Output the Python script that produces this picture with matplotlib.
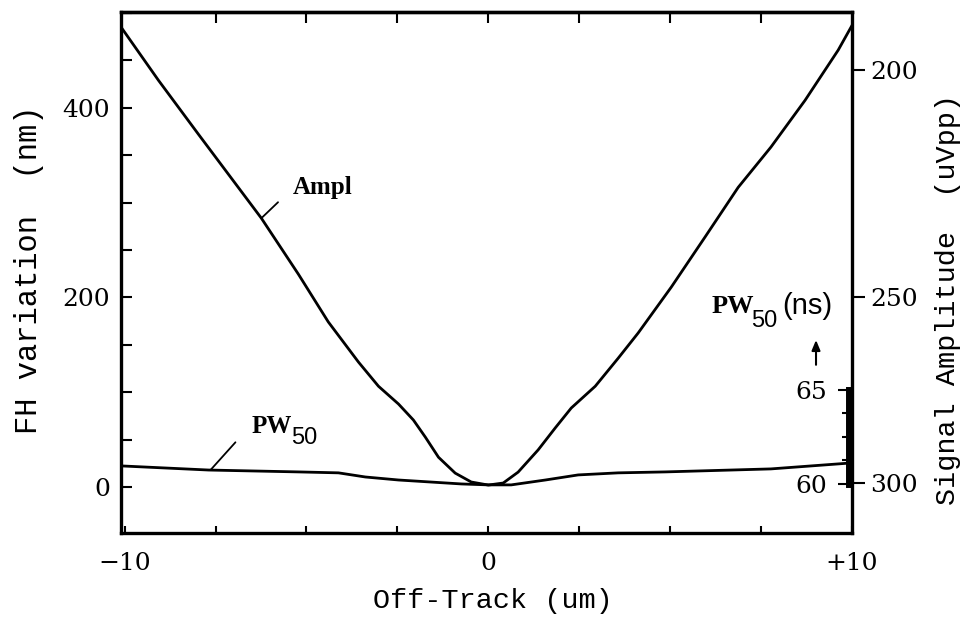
import numpy as np
import matplotlib
matplotlib.use("Agg")
import matplotlib.pyplot as plt
from matplotlib.ticker import FixedLocator, NullFormatter, NullLocator, FixedFormatter

# off-track position (um) and signal amplitude (uVpp)
ampl_x = [-10.1, -9.07, -7.97, -6.24, -5.22, -4.40, -3.57, -3.02, -2.47, -2.06,
          -1.73, -1.37, -0.91, -0.47, 0.0, 0.41, 0.82, 1.37, 1.84, 2.28,
          2.94, 3.57, 4.12, 5.03, 5.96, 6.87, 7.77, 8.71, 9.62, 10.0]
ampl_y = [191.7, 202.0, 213.0, 231.3, 244.4, 256.1, 266.4, 272.8, 277.6, 282.0,
          286.8, 292.5, 297.1, 299.7, 300.6, 300.0, 296.8, 290.4, 284.2, 278.7,
          272.8, 265.4, 258.9, 247.5, 235.6, 224.4, 215.7, 206.0, 196.1, 191.4]

# off-track position (um) and PW50 (ns)
pw_x = [-10.1, -7.69, -5.22, -4.12, -3.38, -2.47, -0.74, 0.0, 0.63, 1.57,
        2.47, 3.57, 4.86, 7.77, 10.0]
pw_y = [60.96, 60.74, 60.64, 60.59, 60.37, 60.21, 60.0, 59.95, 59.95, 60.21,
        60.48, 60.59, 60.64, 60.80, 61.12]

x_ticks = [-10, 0, 10]
x_labels = ["\u221210", "0", "+10"]
fh_ticks = [0, 200, 400]
amp_ticks = [200, 250, 300]
pw_ticks = [60, 65]

tick_font = {"family": "DejaVu Serif", "size": 18}
mono = "Liberation Mono"

fig = plt.figure(figsize=(9.67, 6.19), dpi=100)
ax = fig.add_axes([0.1251, 0.1389, 0.756, 0.8417])

ax.set_xlim(-10.1, 10.0)
ax.set_ylim(-48.5, 501)

for sp in ax.spines.values():
    sp.set_linewidth(2.4)

ax.xaxis.set_major_locator(FixedLocator(x_ticks))
ax.xaxis.set_major_formatter(FixedFormatter(x_labels))
ax.xaxis.set_minor_locator(FixedLocator(np.arange(-7.5, 10, 2.5)))
ax.tick_params(axis="x", which="both", direction="in", length=5, width=1.5,
               top=False, pad=14)
ax.yaxis.set_major_locator(FixedLocator(fh_ticks))
ax.yaxis.set_minor_locator(FixedLocator(np.arange(0, 501, 50)))
ax.tick_params(axis="y", which="both", direction="in", length=8, width=1.5,
               right=False, pad=8)
for lab in ax.get_xticklabels() + ax.get_yticklabels():
    lab.set_fontfamily(tick_font["family"])
    lab.set_fontsize(tick_font["size"])

top = ax.secondary_xaxis("top")
top.xaxis.set_major_locator(FixedLocator(np.arange(-7.5, 10, 2.5)))
top.xaxis.set_major_formatter(NullFormatter())
top.tick_params(direction="in", length=8, width=1.5)
top.spines["top"].set_linewidth(2.4)

ax.set_xlabel("Off-Track (um)", fontfamily=mono, fontsize=20.5)
ax.xaxis.set_label_coords(0.509, -0.106)
ax.set_ylabel("FH variation  (nm)", fontfamily=mono, fontsize=22)
ax.yaxis.set_label_coords(-0.105, 0.505)

# signal amplitude axis (log, inverted)
ax2 = ax.twinx()
ax2.set_yscale("log")
ax2.set_ylim(315.1, 188.9)
ax2.yaxis.set_major_locator(FixedLocator(amp_ticks))
ax2.yaxis.set_major_formatter(FixedFormatter([str(t) for t in amp_ticks]))
ax2.yaxis.set_minor_locator(NullLocator())
ax2.tick_params(axis="y", direction="out", length=9, width=1.5, pad=4)
for lab in ax2.get_yticklabels():
    lab.set_fontfamily(tick_font["family"])
    lab.set_fontsize(tick_font["size"])
for sp in ax2.spines.values():
    sp.set_visible(False)
ax2.set_ylabel("Signal Amplitude  (uVpp)", fontfamily=mono, fontsize=20.5)
ax2.yaxis.set_label_coords(1.114, 0.449)
ax2.plot(ampl_x, ampl_y, color="black", lw=2.0)

# PW50 axis (small scale on the right edge)
ax3 = ax.twinx()
ax3.set_ylim(57.39, 85.1)
for name, sp in ax3.spines.items():
    sp.set_visible(name == "left")
ax3.spines["left"].set_position(("axes", 0.996))
ax3.spines["left"].set_bounds(60, 65)
ax3.spines["left"].set_linewidth(5)
ax3.yaxis.set_ticks_position("left")
ax3.yaxis.set_label_position("left")
ax3.yaxis.set_major_locator(FixedLocator(pw_ticks))
ax3.yaxis.set_minor_locator(FixedLocator([61.25, 62.5, 63.75]))
ax3.tick_params(axis="y", which="major", direction="out", length=8, width=1.5, pad=8)
ax3.tick_params(axis="y", which="minor", direction="out", length=5, width=1.5)
for lab in ax3.get_yticklabels():
    lab.set_fontfamily(tick_font["family"])
    lab.set_fontsize(tick_font["size"])
ax3.plot(pw_x, pw_y, color="black", lw=2.0)

# curve labels with leader lines
xa = -6.24
ya = np.interp(xa, ampl_x, ampl_y)
ax2.annotate("", xy=(xa, ya), xytext=(12, 11.5), textcoords="offset points",
             arrowprops=dict(arrowstyle="-", lw=1.3, shrinkA=0, shrinkB=0))
ax2.annotate("Ampl", xy=(xa, ya), xytext=(44, 22), textcoords="offset points",
             ha="center", va="center", fontfamily="Liberation Serif",
             fontweight="bold", fontsize=18)

xp = -7.64
ax3.annotate("", xy=(xp, np.interp(xp, pw_x, pw_y)), xytext=(18, 20),
             textcoords="offset points",
             arrowprops=dict(arrowstyle="-", lw=1.3, shrinkA=0, shrinkB=0))
ax.text(-6.51, 64, "PW", ha="left", va="center", fontfamily="Liberation Serif",
        fontweight="bold", fontsize=18)
ax.text(-5.41, 52, "50", ha="left", va="center", fontfamily="Liberation Sans",
        fontsize=17)

ax.text(6.13, 190, "PW", ha="left", va="center", fontfamily="Liberation Serif",
        fontweight="bold", fontsize=19)
ax.text(7.22, 175, "50", ha="left", va="center", fontfamily="Liberation Sans",
        fontsize=17)
ax.text(8.08, 191, "(ns)", ha="left", va="center", fontfamily="Liberation Sans",
        fontsize=21)
ax.annotate("", xy=(9.01, 158), xytext=(9.01, 126),
            arrowprops=dict(arrowstyle="-|>,head_width=0.25,head_length=0.6",
                            color="black", lw=1.5))

fig.savefig("out.png", dpi=100, facecolor="white")
